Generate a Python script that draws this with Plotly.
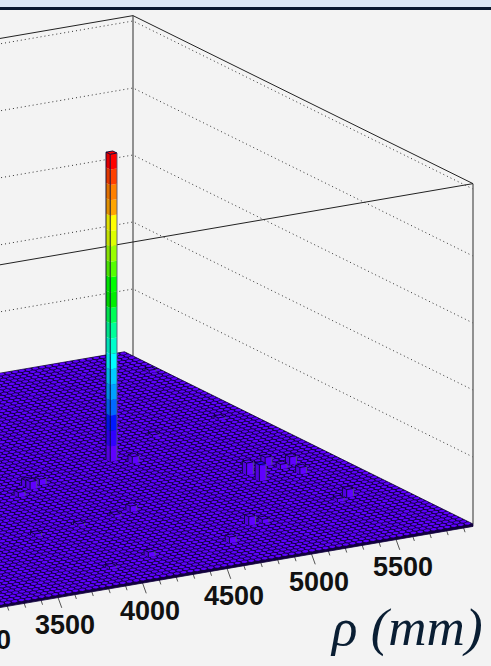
import numpy as np
import plotly.graph_objects as go

# ---------- data ----------
rho_major = [3000, 3500, 4000, 4500, 5000, 5500]
rho_labels = ["3000", "3500", "4000", "4500", "5000", "5500"]
rho_minor = [r for r in range(3000, 6000, 100) if r % 500 != 0]
rho_max = 5960
rho_bin = 40
n_cols = 82
z_grid = [500, 1000, 1500, 2000, 2500]
z_top = 2540
# raised cells: lower rho edge, column index, content
bar_rho = [4920, 5400, 5400, 5560, 5600, 5680, 5640, 4960, 5040, 4720, 5640, 5000, 4320, 4320, 4400, 4200, 4560, 4240,
           5320, 5760, 4440, 3920, 4200, 3960, 5880, 5560]
bar_col = [44, 31, 28, 33, 31, 32, 28, 13, 13, 8, 17, 42, 40, 39, 40, 37, 25, 8,
           50, 52, 24, 22, 23, 6, 73, 16]
bar_val = [2295, 90, 125, 67, 37, 60, 52, 67, 30, 45, 60, 52, 52, 60, 45, 37, 45, 37,
           20, 20, 22, 22, 20, 20, 20, 25]
palette = ["#6000ff", "#3000ff", "#0018ff", "#0068ff", "#00a0ff", "#00ccff", "#00ffff", "#00ffcc", "#00ff99", "#00ff55",
           "#00ee00", "#00ff00", "#55ff00", "#99ff00", "#ddff00", "#ffff00", "#ffa500", "#ff8000", "#ff4000", "#ff0000"]
left_palette = ["#5400e0", "#2a00e0", "#0015e0", "#005ce0", "#008ce0", "#00b3e0", "#00e0e0", "#00e0b3", "#00e086", "#00e04a",
                "#00d200", "#00e000", "#4ae000", "#86e000", "#c2e000", "#e0e000", "#e09000", "#e07000", "#e03800", "#e00000"]
level = 2295 / 20

# ---------- oblique view (page pixels) ----------
W, H = 491, 666
ORIGIN = (473.0, 524.0)
RHO_VEC = (6.76 / rho_bin, -1.16 / rho_bin)
COL_VEC = (-4.25, -2.10)
Z_SCALE = 0.134
SKIRT = 2.4


def P(rho, col, z=0.0):
    d = rho - rho_max
    return (ORIGIN[0] + d * RHO_VEC[0] + col * COL_VEC[0],
            ORIGIN[1] + d * RHO_VEC[1] + col * COL_VEC[1] - z * Z_SCALE)


def poly(points):
    xs = [p[0] for p in points] + [points[0][0]]
    ys = [p[1] for p in points] + [points[0][1]]
    return xs, ys


fig = go.Figure()


def line(pts, color, width, dash="solid"):
    fig.add_trace(go.Scatter(x=[p[0] for p in pts], y=[p[1] for p in pts], mode="lines", hoverinfo="skip",
                             line=dict(color=color, width=width, dash=dash)))


def fill(pts, color, lc=None, lw=0):
    xs, ys = poly(pts)
    fig.add_trace(go.Scatter(x=xs, y=ys, mode="lines", fill="toself", fillcolor=color, hoverinfo="skip",
                             line=dict(color=lc or color, width=lw)))


rho_low = 2800
# walls
for z in z_grid:
    line([P(rho_low, 80, z), P(rho_max, 80, z), P(rho_max, 0, z)], "#333333", 1, "1px,3px")
line([P(rho_max, 80, 0), P(rho_max, 80, z_top)], "#777777", 1.6)
line([P(rho_max, 0, 0), P(rho_max, 0, z_top)], "#777777", 1.6)
line([P(rho_low, 80, z_top), P(rho_max, 80, z_top), P(rho_max, 0, z_top)], "#222222", 1)
line([P(rho_low, 0, z_top), P(rho_max, 0, z_top)], "#222222", 1)

# ticks
for r in rho_minor:
    a = P(r, 0)
    line([a, (a[0] + 2.2, a[1] + 6.5)], "#555555", 1)
for r in rho_major:
    a = P(r, 0)
    line([a, (a[0] + 4.5, a[1] + 12.5)], "#555555", 1)

# floor base (dark) including the rim
corner = [P(rho_low, 0), (P(rho_low, 0)[0], P(rho_low, 0)[1] + SKIRT), (P(rho_max, 0)[0], P(rho_max, 0)[1] + SKIRT),
          P(rho_max, 0), P(rho_max, n_cols), P(rho_low, n_cols)]
fill(corner, "#12003f", "#10003a", 0.8)

# bright top of every cell
cx, cy = [], []
for r in range(rho_max - rho_bin, rho_low, -rho_bin):
    for c in range(n_cols):
        cell = [P(r, c), P(r + rho_bin, c), P(r + rho_bin, c + 1), P(r, c + 1)]
        if max(p[0] for p in cell) < -5 or min(p[0] for p in cell) > W + 5:
            continue
        m = np.mean(cell, axis=0)
        L = (np.array(cell[1]) - np.array(cell[3])) / 2
        S = (np.array(cell[2]) - np.array(cell[0])) / 2
        hexa = [m - 0.56 * L, m - 0.28 * L + 0.7 * S, m + 0.28 * L + 0.7 * S, m + 0.56 * L, m + 0.28 * L - 0.7 * S, m - 0.28 * L - 0.7 * S]
        xs, ys = poly([tuple(h) for h in hexa])
        cx += xs + [None]
        cy += ys + [None]
fig.add_trace(go.Scatter(x=cx, y=cy, mode="lines", fill="toself", fillcolor="#5f00ff", hoverinfo="skip",
                         line=dict(color="#5f00ff", width=0)))

# raised bars, back to front
order = sorted(range(len(bar_val)), key=lambda i: (-bar_col[i], -bar_rho[i]))
for i in order:
    r, c, v = bar_rho[i], bar_col[i], bar_val[i]
    n = int(np.ceil(v / level))
    for k in range(n):
        lo, hi = k * level, min((k + 1) * level, v)
        fill([P(r, c, lo), P(r, c + 1, lo), P(r, c + 1, hi), P(r, c, hi)], left_palette[k])
        fill([P(r, c, lo), P(r + rho_bin, c, lo), P(r + rho_bin, c, hi), P(r, c, hi)], palette[k])
    fill([P(r, c, v), P(r + rho_bin, c, v), P(r + rho_bin, c + 1, v), P(r, c + 1, v)], palette[n - 1], "#0a0030", 0.9)
    line([P(r, c + 1, 0), P(r, c + 1, v)], "#0a0a30", 0.9)
    line([P(r, c, 0), P(r, c, v)], "#0a0a30", 0.9)
    line([P(r + rho_bin, c, 0), P(r + rho_bin, c, v)], "#555577", 0.9)

# labels
ann = []
for r, t in zip(rho_major, rho_labels):
    a = P(r, 0)
    ann.append(dict(x=a[0] + 10 + 30, y=a[1] + 30, text=t, xanchor="right", yanchor="middle", showarrow=False,
                    font=dict(family="Liberation Sans", size=27, color="#111111", weight="bold")))
ann.append(dict(x=485, y=627, text="ρ (mm)", xanchor="right", yanchor="middle", showarrow=False,
                font=dict(family="Liberation Serif", size=53, color="#0a1e33", style="italic")))

fig.update_layout(
    width=W, height=H, margin=dict(l=0, r=0, t=0, b=0), showlegend=False,
    paper_bgcolor="#f3f3f3", plot_bgcolor="#f3f3f3", annotations=ann,
    xaxis=dict(range=[0, W], visible=False, fixedrange=True),
    yaxis=dict(range=[H, 0], visible=False, fixedrange=True),
    shapes=[
        dict(type="rect", xref="x", yref="y", x0=0, x1=W, y0=0, y1=7, fillcolor="#dbe8f3", line_width=0, layer="above"),
        dict(type="rect", xref="x", yref="y", x0=0, x1=W, y0=7, y1=10, fillcolor="#0a1a2e", line_width=0, layer="above"),
    ],
)
fig.write_html("out.html", config={"displayModeBar": False},
               post_script="document.body.style.margin='0';document.body.style.overflow='hidden';")
